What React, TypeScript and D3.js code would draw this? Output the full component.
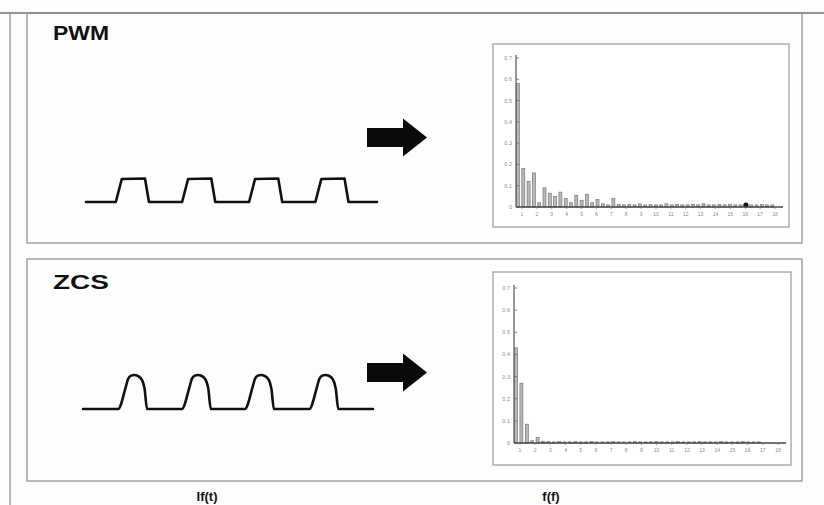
import React from "react";
import * as d3 from "d3";

// ---------- data ----------
const panelTitles = ["PWM", "ZCS"];
const axisLabels = ["If(t)", "f(f)"];

// one PWM pulse (time relative to pulse start, in periods) and level
const pwmPulseT = [0, 0.09, 0.44, 0.5];
const pwmPulseV = [0, 1, 1.02, 0];
const pwmStarts = [0.45, 1.45, 2.46, 3.46];

// one ZCS (resonant) pulse
const zcsPulseT = [0, 0.126, 0.157, 0.204, 0.251, 0.314, 0.377, 0.416, 0.455];
const zcsPulseV = [0, 0.68, 0.88, 0.98, 1, 0.97, 0.85, 0.6, 0];
const zcsStarts = [0.55, 1.55, 2.54, 3.55];

// spectra (harmonic index -> amplitude)
const pwmSpectrum = [
  0.58, 0.18, 0.12, 0.16, 0.02, 0.09, 0.065, 0.05, 0.07, 0.04, 0.02, 0.055, 0.03,
  0.06, 0.02, 0.035, 0.015, 0.01, 0.04, 0.012, 0.01, 0.012, 0.01, 0.015, 0.01,
  0.012, 0.01, 0.01, 0.015, 0.01, 0.012, 0.01, 0.01, 0.012, 0.01, 0.015, 0.01,
  0.01, 0.012, 0.01, 0.012, 0.01, 0.01, 0.012, 0.01, 0.01, 0.012, 0.01, 0.01,
];
const zcsSpectrum = [
  0.43, 0.27, 0.085, 0.01, 0.025, 0.008, 0.006, 0.005, 0.006, 0.005, 0.005, 0.006,
  0.005, 0.005, 0.006, 0.005, 0.005, 0.005, 0.006, 0.005, 0.005, 0.005, 0.006,
  0.005, 0.005, 0.005, 0.006, 0.005, 0.005, 0.005, 0.006, 0.005, 0.005, 0.005,
  0.006, 0.005, 0.005, 0.005, 0.006, 0.005, 0.005, 0.005, 0.006, 0.005, 0.005, 0.005,
];
const pwmDotIndex = 43;
const yTickValues = [0, 0.1, 0.2, 0.3, 0.4, 0.5, 0.6, 0.7];
const xTickLabels = ["1", "2", "3", "4", "5", "6", "7", "8", "9", "10", "11", "12", "13", "14", "15", "16", "17", "18"];

// ---------- layout ----------
const W = 824;
const H = 505;

type Panel = {
  top: number;
  bottom: number;
  title: string;
  titleY: number;
  pulseT: number[];
  pulseV: number[];
  starts: number[];
  tEnd: number;
  waveX: [number, number];
  waveY: [number, number];
  smooth: boolean;
  arrowY: number;
  box: { x0: number; y0: number; x1: number; y1: number };
  axisX: [number, number];
  axisY: [number, number];
  spectrum: number[];
  dot?: number;
};

const panels: Panel[] = [
  {
    top: 13,
    bottom: 243,
    title: panelTitles[0],
    titleY: 40,
    pulseT: pwmPulseT,
    pulseV: pwmPulseV,
    starts: pwmStarts,
    tEnd: 4.39,
    waveX: [86, 377],
    waveY: [202, 179],
    smooth: false,
    arrowY: 137.5,
    box: { x0: 493, y0: 44, x1: 789, y1: 227 },
    axisX: [518, 783],
    axisY: [207, 58],
    spectrum: pwmSpectrum,
    dot: pwmDotIndex,
  },
  {
    top: 259,
    bottom: 481,
    title: panelTitles[1],
    titleY: 289,
    pulseT: zcsPulseT,
    pulseV: zcsPulseV,
    starts: zcsStarts,
    tEnd: 4.55,
    waveX: [83, 373],
    waveY: [409, 375],
    smooth: true,
    arrowY: 372.5,
    box: { x0: 493, y0: 272, x1: 791, y1: 465 },
    axisX: [516, 786],
    axisY: [443, 288],
    spectrum: zcsSpectrum,
  },
];

function Waveform({ p }: { p: Panel }) {
  const x = d3.scaleLinear().domain([0, p.tEnd]).range(p.waveX);
  const y = d3.scaleLinear().domain([0, 1]).range(p.waveY);
  const pts: [number, number][] = [[0, 0]];
  p.starts.forEach((s) => {
    p.pulseT.forEach((t, i) => pts.push([s + t, p.pulseV[i]]));
  });
  pts.push([p.tEnd, 0]);
  const line = d3
    .line<[number, number]>()
    .x((d) => x(d[0]))
    .y((d) => y(d[1]))
    .curve(p.smooth ? d3.curveMonotoneX : d3.curveLinear);
  return (
    <path
      d={line(pts) || ""}
      fill="none"
      stroke="#111"
      strokeWidth={2.6}
      strokeLinejoin="round"
      strokeLinecap="round"
    />
  );
}

function Arrow({ cy }: { cy: number }) {
  const sx0 = 367;
  const sx1 = 403;
  const tip = 427;
  const sh = 9.5;
  const hh = 19;
  const d = `M${sx0},${cy - sh} L${sx1},${cy - sh} L${sx1},${cy - hh} L${tip},${cy} L${sx1},${cy + hh} L${sx1},${cy + sh} L${sx0},${cy + sh} Z`;
  return <path d={d} fill="#0a0a0a" />;
}

function Spectrum({ p }: { p: Panel }) {
  const n = 50;
  const x = d3.scaleLinear().domain([0, n]).range(p.axisX);
  const y = d3.scaleLinear().domain([0, 0.7]).range(p.axisY);
  const y0 = y(0);
  const yAxisX = p.axisX[0] - 2;
  const tickX = d3.scaleLinear().domain([0, xTickLabels.length - 1]).range([p.axisX[0] + 4, p.axisX[1] - 8]);
  return (
    <g>
      <rect
        x={p.box.x0}
        y={p.box.y0}
        width={p.box.x1 - p.box.x0}
        height={p.box.y1 - p.box.y0}
        fill="#fff"
        stroke="#9a9a9a"
        strokeWidth={1.2}
      />
      {p.spectrum.map((v, i) => (
        <rect
          key={i}
          x={x(i) - 1.5}
          y={y(v)}
          width={3}
          height={Math.max(0.5, y0 - y(v))}
          fill="#b8b8b8"
          stroke="#6a6a6a"
          strokeWidth={0.6}
        />
      ))}
      {p.dot !== undefined && <circle cx={x(p.dot)} cy={y0 - 2} r={2.6} fill="#111" />}
      <line x1={yAxisX} x2={yAxisX} y1={y(0.7) - 3} y2={y0} stroke="#555" strokeWidth={1.2} />
      <line x1={yAxisX} x2={p.axisX[1]} y1={y0} y2={y0} stroke="#444" strokeWidth={1.6} />
      {yTickValues.map((t) => (
        <g key={t}>
          <line x1={yAxisX} x2={yAxisX + 3} y1={y(t)} y2={y(t)} stroke="#666" strokeWidth={0.8} />
          <text
            x={yAxisX - 4}
            y={y(t) + 2}
            fontSize={5.5}
            textAnchor="end"
            fill="#8a8a8a"
            fontFamily="Liberation Sans, Arial, sans-serif"
          >
            {t === 0 ? "0" : t.toFixed(1)}
          </text>
        </g>
      ))}
      {xTickLabels.map((lab, i) => (
        <g key={lab}>
          <line x1={tickX(i)} x2={tickX(i)} y1={y0} y2={y0 + 2} stroke="#777" strokeWidth={0.7} />
          <text
            x={tickX(i)}
            y={y0 + 9}
            fontSize={5}
            textAnchor="middle"
            fill="#8a8a8a"
            fontFamily="Liberation Sans, Arial, sans-serif"
          >
            {lab}
          </text>
        </g>
      ))}
    </g>
  );
}

export default function App() {
  return (
    <svg
      width={W}
      height={H}
      viewBox={`0 0 ${W} ${H}`}
      style={{ position: "absolute", left: 0, top: 0, background: "#fff" }}
    >
      <rect x={0} y={0} width={W} height={H} fill="#fdfdfd" />
      {/* page edges */}
      <line x1={0} x2={W} y1={13} y2={13} stroke="#6f6f6f" strokeWidth={1.4} />
      <line x1={10} x2={10} y1={13} y2={H} stroke="#8a8a8a" strokeWidth={1.2} />
      {panels.map((p, k) => (
        <g key={k}>
          <rect
            x={27}
            y={p.top}
            width={802 - 27}
            height={p.bottom - p.top}
            fill="none"
            stroke="#8c8c8c"
            strokeWidth={1.2}
          />
          <text
            x={53}
            y={p.titleY}
            fontSize={21}
            fontWeight="bold"
            fontFamily="Liberation Sans, Arial, sans-serif"
            fill="#111"
            textLength={56}
            lengthAdjust="spacingAndGlyphs"
          >
            {p.title}
          </text>
          <Waveform p={p} />
          <Arrow cy={p.arrowY} />
          <Spectrum p={p} />
        </g>
      ))}
      <text
        x={207}
        y={501}
        fontSize={13}
        fontWeight="bold"
        textAnchor="middle"
        fontFamily="Liberation Sans Narrow, Liberation Sans, Arial, sans-serif"
        fill="#111"
      >
        {axisLabels[0]}
      </text>
      <text
        x={551}
        y={501}
        fontSize={13}
        fontWeight="bold"
        textAnchor="middle"
        fontFamily="Liberation Sans Narrow, Liberation Sans, Arial, sans-serif"
        fill="#111"
      >
        {axisLabels[1]}
      </text>
    </svg>
  );
}
